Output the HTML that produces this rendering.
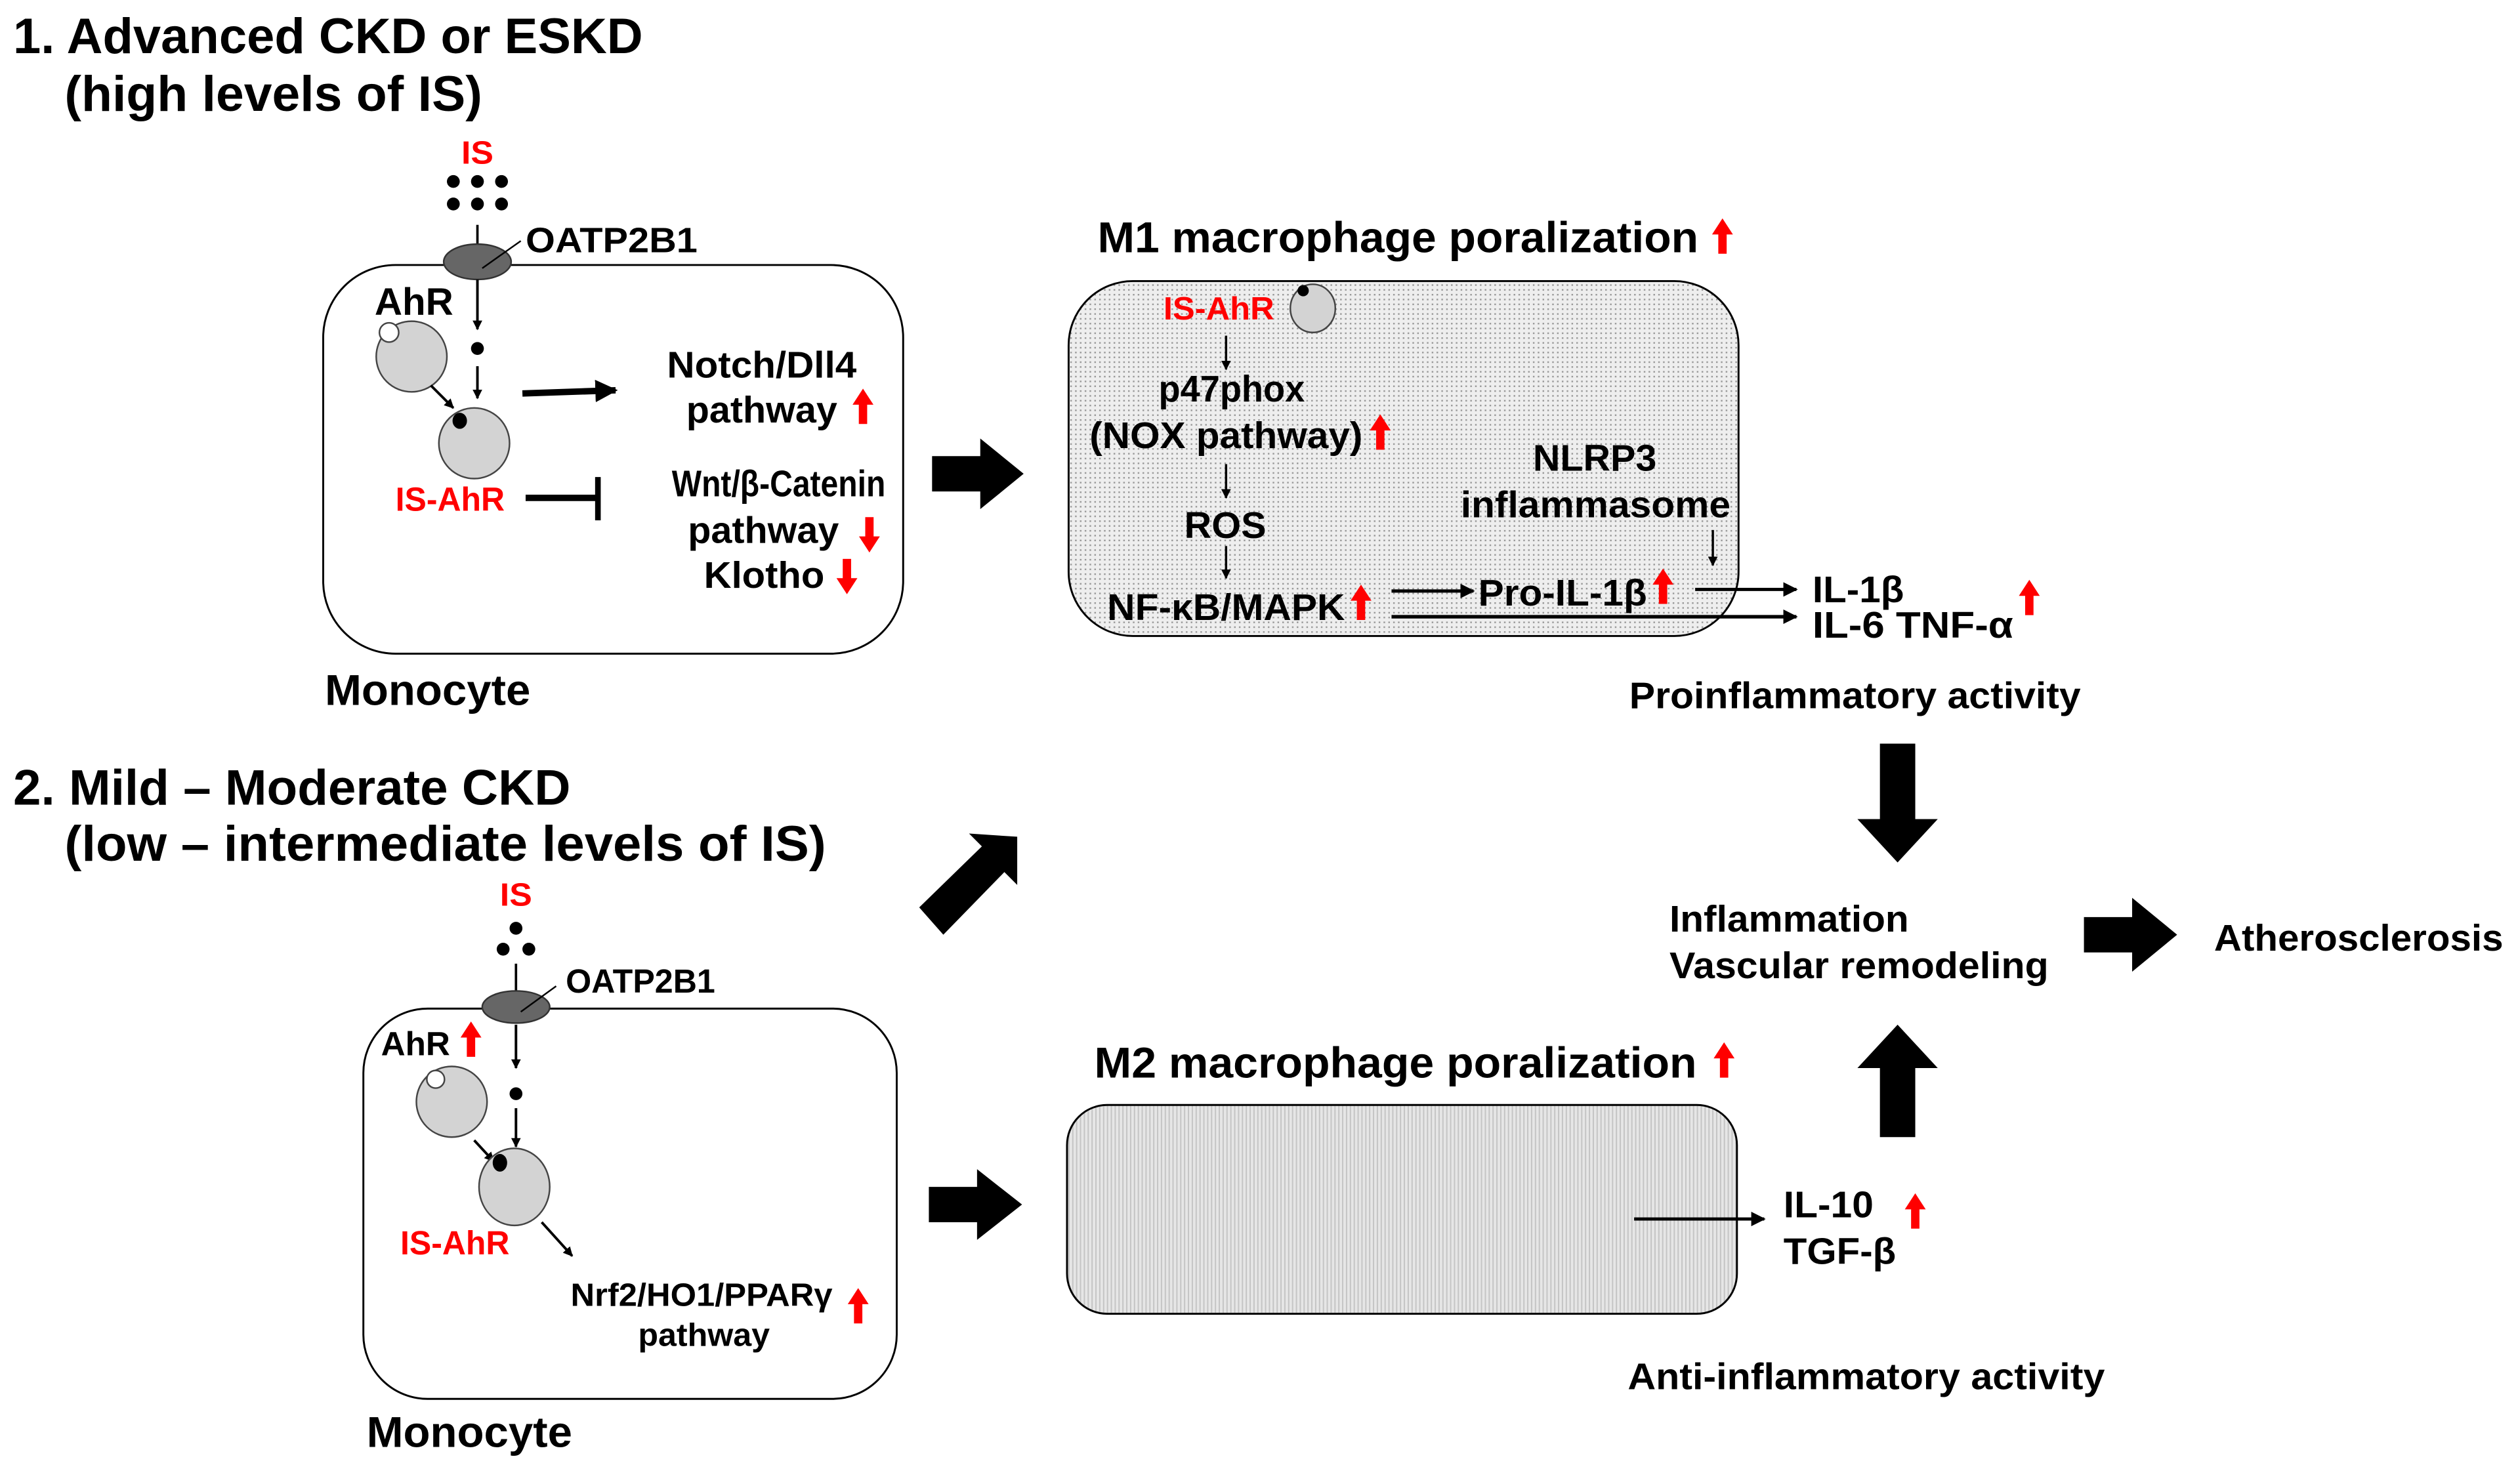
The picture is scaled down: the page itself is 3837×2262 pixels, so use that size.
<!DOCTYPE html>
<html><head><meta charset="utf-8"><style>
html,body{margin:0;padding:0;background:#fff}
svg{display:block}
text{font-family:"Liberation Sans",Arial,sans-serif;font-weight:bold;fill:#000}
.r{fill:#f00}
</style></head><body>
<svg width="3837" height="2262" viewBox="0 0 1567 924" xmlns="http://www.w3.org/2000/svg">
<defs>
<marker id="ah" viewBox="0 0 10 10" refX="9" refY="5" markerWidth="6" markerHeight="6" orient="auto" markerUnits="userSpaceOnUse"><path d="M0,0 L10,5 L0,10 z" fill="#000"/></marker>
<marker id="ah2" viewBox="0 0 10 10" refX="9" refY="5" markerWidth="9" markerHeight="9" orient="auto" markerUnits="userSpaceOnUse"><path d="M0,0 L10,5 L0,10 z" fill="#000"/></marker>
<marker id="ah3" viewBox="0 0 10 10" refX="9" refY="5" markerWidth="14" markerHeight="14" orient="auto" markerUnits="userSpaceOnUse"><path d="M0,0 L10,5 L0,10 z" fill="#000"/></marker>
<pattern id="dots" width="3" height="3" patternUnits="userSpaceOnUse"><rect width="3" height="3" fill="#eeeeee"/><rect width="1" height="1" fill="#9a9a9a"/></pattern>
<pattern id="vl" width="2.4" height="4" patternUnits="userSpaceOnUse"><rect width="2.4" height="4" fill="#e6e6e6"/><rect width="0.8" height="4" fill="#c4c4c4"/></pattern>
<g id="up"><polygon points="0,0 6.5,10 2.6,10 2.6,22 -2.6,22 -2.6,10 -6.5,10" fill="#f00"/></g>
<g id="dn"><polygon points="0,22 6.5,12 2.6,12 2.6,0 -2.6,0 -2.6,12 -6.5,12" fill="#f00"/></g>
</defs>

<text x="8" y="33" font-size="31" textLength="392" lengthAdjust="spacingAndGlyphs">1. Advanced CKD or ESKD</text>
<text x="40" y="69" font-size="31" textLength="260" lengthAdjust="spacingAndGlyphs">(high levels of IS)</text>

<text x="287" y="102" font-size="20" class="r" textLength="20" lengthAdjust="spacingAndGlyphs">IS</text>
<g fill="#000"><circle cx="282" cy="113" r="4"/><circle cx="297" cy="113" r="4"/><circle cx="312" cy="113" r="4"/><circle cx="282" cy="127" r="4"/><circle cx="297" cy="127" r="4"/><circle cx="312" cy="127" r="4"/></g>
<rect x="201" y="165" width="361" height="242" rx="45" fill="#fff" stroke="#000" stroke-width="1.2"/>
<line x1="297" y1="140" x2="297" y2="160" stroke="#000" stroke-width="1.5"/>
<ellipse cx="297" cy="163" rx="21" ry="11" fill="#666" stroke="#333" stroke-width="1"/>
<line x1="300" y1="167" x2="324" y2="150" stroke="#000" stroke-width="1"/>
<text x="327" y="157" font-size="22" textLength="107" lengthAdjust="spacingAndGlyphs">OATP2B1</text>
<text x="233" y="196" font-size="24" textLength="49" lengthAdjust="spacingAndGlyphs">AhR</text>
<circle cx="256" cy="222" r="22" fill="#d3d3d3" stroke="#444" stroke-width="1"/>
<circle cx="242" cy="207" r="6" fill="#fff" stroke="#444" stroke-width="1"/>
<line x1="297" y1="174" x2="297" y2="205" stroke="#000" stroke-width="1.6" marker-end="url(#ah)"/>
<circle cx="297" cy="217" r="4"/>
<line x1="297" y1="228" x2="297" y2="248" stroke="#000" stroke-width="1.6" marker-end="url(#ah)"/>
<line x1="268" y1="240" x2="282" y2="254" stroke="#000" stroke-width="1.6" marker-end="url(#ah)"/>
<circle cx="295" cy="276" r="22" fill="#d3d3d3" stroke="#444" stroke-width="1"/>
<ellipse cx="286" cy="262" rx="4.5" ry="5" fill="#000"/>
<text x="246" y="318" font-size="21" class="r" textLength="68" lengthAdjust="spacingAndGlyphs">IS-AhR</text>
<line x1="325" y1="245" x2="383" y2="243" stroke="#000" stroke-width="4" marker-end="url(#ah3)"/>
<text x="415" y="235" font-size="23" textLength="118" lengthAdjust="spacingAndGlyphs">Notch/Dll4</text>
<text x="427" y="263" font-size="23" textLength="94" lengthAdjust="spacingAndGlyphs">pathway</text>
<use href="#up" x="537" y="242"/>
<line x1="327" y1="310" x2="372" y2="310" stroke="#000" stroke-width="4"/>
<line x1="372" y1="297" x2="372" y2="324" stroke="#000" stroke-width="3.5"/>
<text x="418" y="309" font-size="23" textLength="133" lengthAdjust="spacingAndGlyphs">Wnt/β-Catenin</text>
<text x="428" y="338" font-size="23" textLength="94" lengthAdjust="spacingAndGlyphs">pathway</text>
<use href="#dn" x="541" y="322"/>
<text x="438" y="366" font-size="23" textLength="75" lengthAdjust="spacingAndGlyphs">Klotho</text>
<use href="#dn" x="527" y="348"/>
<text x="202" y="439" font-size="27" textLength="128" lengthAdjust="spacingAndGlyphs">Monocyte</text>

<polygon points="580,284 610,284 610,273 637,295 610,317 610,306 580,306" fill="#000"/>

<text x="683" y="157" font-size="27" textLength="374" lengthAdjust="spacingAndGlyphs">M1 macrophage poralization</text>
<use href="#up" x="1072" y="136"/>
<rect x="665" y="175" width="417" height="221" rx="40" fill="url(#dots)" stroke="#000" stroke-width="1.2"/>
<text x="724" y="199" font-size="20" class="r" textLength="69" lengthAdjust="spacingAndGlyphs">IS-AhR</text>
<ellipse cx="817" cy="192" rx="14" ry="15" fill="#d3d3d3" stroke="#444" stroke-width="1"/>
<circle cx="811" cy="181" r="3.5"/>
<line x1="763" y1="209" x2="763" y2="230" stroke="#000" stroke-width="1.4" marker-end="url(#ah)"/>
<text x="721" y="250" font-size="23" textLength="91" lengthAdjust="spacingAndGlyphs">p47phox</text>
<text x="678" y="279" font-size="23" textLength="170" lengthAdjust="spacingAndGlyphs">(NOX pathway)</text>
<use href="#up" x="859" y="258"/>
<line x1="763" y1="289" x2="763" y2="310" stroke="#000" stroke-width="1.4" marker-end="url(#ah)"/>
<text x="737" y="335" font-size="23" textLength="51" lengthAdjust="spacingAndGlyphs">ROS</text>
<line x1="763" y1="340" x2="763" y2="360" stroke="#000" stroke-width="1.4" marker-end="url(#ah)"/>
<text x="689" y="386" font-size="23" textLength="148" lengthAdjust="spacingAndGlyphs">NF-κB/MAPK</text>
<use href="#up" x="847" y="364"/>
<line x1="866" y1="368" x2="917" y2="368" stroke="#000" stroke-width="2" marker-end="url(#ah2)"/>
<text x="920" y="377" font-size="23" textLength="105" lengthAdjust="spacingAndGlyphs">Pro-IL-1β</text>
<use href="#up" x="1035" y="354"/>
<text x="954" y="293" font-size="23" textLength="77" lengthAdjust="spacingAndGlyphs">NLRP3</text>
<text x="909" y="322" font-size="23" textLength="168" lengthAdjust="spacingAndGlyphs">inflammasome</text>
<line x1="1066" y1="330" x2="1066" y2="352" stroke="#000" stroke-width="1.4" marker-end="url(#ah)"/>
<line x1="1055" y1="367" x2="1118" y2="367" stroke="#000" stroke-width="2" marker-end="url(#ah2)"/>
<line x1="866" y1="384" x2="1118" y2="384" stroke="#000" stroke-width="2.2" marker-end="url(#ah2)"/>
<text x="1128" y="375" font-size="23" textLength="57" lengthAdjust="spacingAndGlyphs">IL-1β</text>
<text x="1128" y="397" font-size="23" textLength="125" lengthAdjust="spacingAndGlyphs">IL-6  TNF-α</text>
<use href="#up" x="1263" y="361"/>
<text x="1014" y="441" font-size="23" textLength="281" lengthAdjust="spacingAndGlyphs">Proinflammatory activity</text>

<polygon points="1170,463 1192,463 1192,510 1206,510 1181,537 1156,510 1170,510" fill="#000"/>

<text x="8" y="501" font-size="31" textLength="347" lengthAdjust="spacingAndGlyphs">2. Mild – Moderate CKD</text>
<text x="40" y="536" font-size="31" textLength="474" lengthAdjust="spacingAndGlyphs">(low –  intermediate levels of IS)</text>

<polygon points="572,565 611,527 603,519 633,521 633,551 625,543 587,582" fill="#000"/>

<text x="311" y="564" font-size="20" class="r" textLength="20" lengthAdjust="spacingAndGlyphs">IS</text>
<g fill="#000"><circle cx="321" cy="578" r="4"/><circle cx="313" cy="591" r="4"/><circle cx="329" cy="591" r="4"/></g>
<rect x="226" y="628" width="332" height="243" rx="40" fill="#fff" stroke="#000" stroke-width="1.2"/>
<line x1="321" y1="600" x2="321" y2="622" stroke="#000" stroke-width="1.5"/>
<ellipse cx="321" cy="627" rx="21" ry="10" fill="#666" stroke="#333" stroke-width="1"/>
<line x1="324" y1="630" x2="346" y2="614" stroke="#000" stroke-width="1"/>
<text x="352" y="618" font-size="21" textLength="93" lengthAdjust="spacingAndGlyphs">OATP2B1</text>
<text x="237" y="657" font-size="21" textLength="43" lengthAdjust="spacingAndGlyphs">AhR</text>
<use href="#up" x="293" y="636"/>
<circle cx="281" cy="686" r="22" fill="#d3d3d3" stroke="#444" stroke-width="1"/>
<circle cx="271" cy="672" r="5.5" fill="#fff" stroke="#444" stroke-width="1"/>
<line x1="321" y1="638" x2="321" y2="665" stroke="#000" stroke-width="1.6" marker-end="url(#ah)"/>
<circle cx="321" cy="681" r="4"/>
<line x1="321" y1="690" x2="321" y2="714" stroke="#000" stroke-width="1.6" marker-end="url(#ah)"/>
<line x1="295" y1="710" x2="307" y2="723" stroke="#000" stroke-width="1.6" marker-end="url(#ah)"/>
<ellipse cx="320" cy="739" rx="22" ry="24" fill="#d3d3d3" stroke="#444" stroke-width="1"/>
<ellipse cx="311" cy="724" rx="4.5" ry="5.5" fill="#000"/>
<text x="249" y="781" font-size="21" class="r" textLength="68" lengthAdjust="spacingAndGlyphs">IS-AhR</text>
<line x1="337" y1="761" x2="356" y2="782" stroke="#000" stroke-width="1.6" marker-end="url(#ah)"/>
<text x="355" y="813" font-size="20" textLength="163" lengthAdjust="spacingAndGlyphs">Nrf2/HO1/PPARγ</text>
<text x="397" y="838" font-size="20" textLength="82" lengthAdjust="spacingAndGlyphs">pathway</text>
<use href="#up" x="534" y="802"/>
<text x="228" y="901" font-size="27" textLength="128" lengthAdjust="spacingAndGlyphs">Monocyte</text>

<polygon points="578,739 608,739 608,728 636,750 608,772 608,761 578,761" fill="#000"/>

<text x="681" y="671" font-size="27" textLength="375" lengthAdjust="spacingAndGlyphs">M2 macrophage poralization</text>
<use href="#up" x="1073" y="649"/>
<rect x="664" y="688" width="417" height="130" rx="25" fill="url(#vl)" stroke="#000" stroke-width="1.2"/>
<line x1="1017" y1="759" x2="1098" y2="759" stroke="#000" stroke-width="2" marker-end="url(#ah2)"/>
<text x="1110" y="758" font-size="23" textLength="56" lengthAdjust="spacingAndGlyphs">IL-10</text>
<text x="1110" y="787" font-size="23" textLength="70" lengthAdjust="spacingAndGlyphs">TGF-β</text>
<use href="#up" x="1192" y="743"/>
<text x="1013" y="865" font-size="23" textLength="297" lengthAdjust="spacingAndGlyphs">Anti-inflammatory activity</text>

<polygon points="1170,708 1192,708 1192,665 1206,665 1181,638 1156,665 1170,665" fill="#000"/>

<text x="1039" y="580" font-size="23" textLength="149" lengthAdjust="spacingAndGlyphs">Inflammation</text>
<text x="1039" y="609" font-size="23" textLength="236" lengthAdjust="spacingAndGlyphs">Vascular remodeling</text>
<polygon points="1297,571 1327,571 1327,559 1355,582 1327,605 1327,593 1297,593" fill="#000"/>
<text x="1378" y="592" font-size="23" textLength="180" lengthAdjust="spacingAndGlyphs">Atherosclerosis</text>
</svg>
</body></html>
